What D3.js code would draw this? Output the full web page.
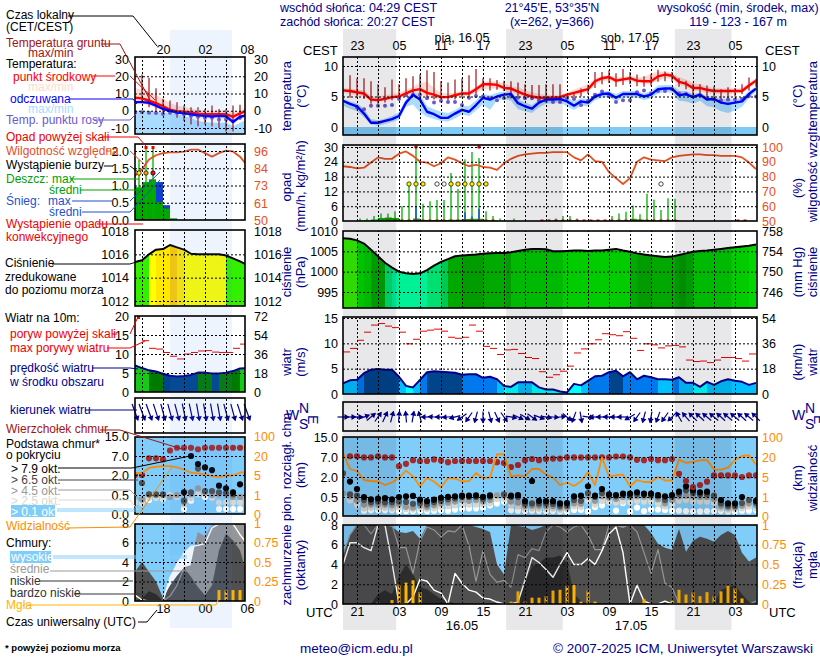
<!DOCTYPE html>
<html>
<head>
<meta charset="utf-8">
<script src="https://d3js.org/d3.v7.min.js"></script>
<style>
body { margin: 0; background: #fff; }
svg { display: block; }
text { font-family: "Liberation Sans", Arial, sans-serif; font-size: 12px; }
.ax text { font-size: 12.5px; }
.ax path { display: none; }
.grid path { display: none; }
.grid line { stroke: #000; stroke-dasharray: 2 2; stroke-width: 1; }
.frame { fill: none; stroke: #000; stroke-width: 1.6; }
</style>
</head>
<body>
<script>
// ---- main meteogram, 60 hourly values from 19 UTC
var temp = [6.0,5.9,5.7,5.5,4.5,4.4,4.6,4.9,5.0,5.5,
    6.0,6.2,5.6,5.3,4.9,4.9,5.2,5.5,5.5,6.2,
    7.0,7.0,6.9,6.4,6.3,5.8,5.3,5.0,4.8,4.8,
    4.8,4.9,5.3,5.6,5.9,6.2,7.5,8.0,8.2,7.6,
    7.8,8.0,7.6,7.5,7.5,8.3,8.6,8.4,7.4,7.1,
    6.4,6.4,6.1,5.9,5.9,5.9,5.9,5.9,6.8,7.6];
var tempMax = [6.4,6.3,6.2,6.0,5.1,5.0,5.2,5.4,5.6,6.1,
    6.5,7.2,7.4,6.4,5.6,5.5,5.7,5.9,6.0,6.6,
    7.4,7.5,7.4,7.2,6.7,6.5,6.0,5.7,5.4,5.3,
    5.2,5.3,5.6,6.1,6.6,7.0,7.9,8.4,8.5,8.1,
    8.2,8.4,8.1,8.2,8.8,9.0,9.1,8.9,8.2,7.8,
    7.2,7.0,6.6,6.4,6.3,6.3,6.3,6.4,7.2,7.9];
var tempMin = [5.6,5.4,5.2,5.0,4.2,4.1,4.3,4.6,4.7,5.0,
    5.2,5.3,4.9,4.6,4.6,4.7,4.9,5.1,5.1,5.6,
    6.2,6.3,6.3,6.0,5.7,5.3,4.9,4.7,4.5,4.5,
    4.4,4.5,4.7,5.1,5.4,5.7,6.9,7.5,7.7,7.2,
    7.4,7.5,7.2,7.1,7.1,7.6,8.0,7.9,7.0,6.6,
    6.0,5.9,5.6,5.5,5.5,5.5,5.5,5.6,6.4,7.2];
var feel = [4.3,3.8,3.4,2.2,0.7,0.7,1.0,1.3,1.8,4.0,
    5.3,4.5,2.5,2.1,1.5,1.5,2.2,2.8,2.5,3.6,
    4.8,4.5,5.0,5.3,5.4,3.9,3.4,3.0,4.0,4.5,
    4.5,4.6,4.2,3.5,4.2,4.0,5.0,5.4,5.5,4.8,
    5.4,5.4,5.4,5.0,5.3,6.2,6.3,6.3,5.2,5.4,
    4.9,5.3,4.5,4.6,4.0,3.8,4.0,4.2,5.4,6.3];
var feelMax = [4.6,4.2,3.9,3.0,1.3,1.1,1.4,1.8,2.4,4.6,
    5.8,5.4,3.4,2.9,2.5,2.3,2.8,3.5,3.4,4.4,
    5.4,5.2,5.6,5.8,5.8,4.5,4.0,3.6,4.5,5.0,
    5.0,5.0,4.8,4.2,4.7,4.6,5.4,5.8,5.9,5.4,
    5.9,5.9,5.9,5.5,5.9,6.8,6.9,6.9,5.9,5.9,
    5.4,5.6,5.0,5.0,4.6,4.5,4.6,4.8,5.9,6.6];
var feelMin = [3.5,3.0,2.6,1.6,0.4,0.2,0.5,0.8,1.2,3.3,
    3.7,2.4,1.7,1.3,1.0,0.9,1.4,2.1,1.8,2.7,
    3.7,2.8,4.4,4.6,4.3,2.9,2.6,2.3,3.2,3.8,
    3.9,4.0,3.4,2.8,3.5,3.4,4.4,4.8,4.9,4.2,
    4.8,4.8,4.8,4.4,4.7,5.5,5.7,5.6,4.3,4.2,
    3.8,4.3,3.4,3.2,2.6,2.3,2.7,3.3,4.7,5.8];
var dew = [null,null,3.2,2.9,3.5,3.5,3.5,3.6,4.6,5.2,
    5.3,5.3,4.7,4.0,4.3,4.1,4.1,3.6,4.8,5.1,
    5.0,4.7,4.4,4.7,5.0,4.8,4.7,4.7,4.4,4.3,
    4.1,4.1,4.7,4.6,3.6,4.3,5.3,5.8,5.1,4.1,
    4.4,4.4,5.7,6.0,5.5,5.9,5.9,6.2,5.5,5.4,
    5.0,5.2,4.7,4.5,4.4,4.5,4.5,4.6,5.1,5.0];
var groundMax = [null,8.5,8,8,7.5,7,6.5,7.8,7,8,
    8.3,8.6,9.3,9,7.5,7.3,7.8,8,8.5,9.5,
    8,8,7.7,7.6,7.5,7.3,7,6.9,6.9,7,
    7,7,5.3,5.7,6.3,6.9,9,9,9.3,8.8,
    9.5,9,8.6,8.3,8.6,9.4,9.1,9,8,7.6,
    7.1,7,6.8,6.7,6.2,6.5,6.4,7,8.1,7.9];
var groundMin = [null,4.8,4.8,4.6,3.8,3.8,4.0,4.4,4.4,4.9,
    5.2,5.3,4.7,4.5,4.5,4.3,4.5,4.8,4.8,5.3,
    6.0,6.0,6.1,5.9,5.5,5.0,4.6,4.5,4.4,4.3,
    4.1,4.1,4.4,4.9,5.0,5.4,6.4,7.0,7.2,6.6,
    6.9,7.0,6.7,6.6,6.8,7.4,7.5,7.4,6.6,6.2,
    4.8,5.0,4.7,4.9,4.6,4.7,5.0,5.4,6.0,6.6];
var humidity = [87,86.5,85.5,86,89.5,93,92,92,95.5,97,
    94,90,89.5,87,89,93,91.5,89,87,88,
    86.5,86,84.5,89,92,94,95,95.5,96,96,
    96.5,96.5,96.5,93,91,95,90.5,90,83,79,
    75,79,90,93,91.5,91,90.5,93,94,94.5,
    95,95,94.5,94.5,94,94,94,93,89.5,85];
var rainMax = [0,0,1,1,2,3,3,4,6,15,
    30,7,8,8.5,8.5,19.5,13,25,28,25.5,
    4,2,1,0,1,0,0,0,0,0.5,
    1,2,2,1,0,0,0,0,2,3,
    3.7,6.3,2.7,11,8.6,4.5,9.2,9,0,0,
    0,0,0,0,0,0,0,0,0,0];
var rainMean = [0,0,0.2,0.3,0.6,1.2,1.4,1.2,0.3,0.3,
    1.0,0.4,0.4,0.4,0.4,0.5,0.5,0.8,0.9,0.9,
    0.3,0.2,0.1,0,0,0,0,0,0,0,
    0.2,0.2,0.2,0.1,0,0,0,0,0.1,0.3,
    0.3,0.9,0.6,0.4,0.2,0.3,0.3,0.3,0,0,
    0,0,0,0,0,0,0,0,0,0];
var snowHours = [10,17,18,19];
var snowValues = [6,3.5,1.8,5];
var rainOverHours = [10,19];
var stormHours = [9,10,11,15,16,17,18,19,20];
var stormWeakHours = [13,14,45];
var convHours = [6,7,8,9,10,11,12,13,14,15,16,17,18,19,20,21,28,29,30,31,32,33,34,35,36,37,38,39,40,41,42,43,44,45,46,47,56,57];
var pressure = [1008.2,1008.1,1007.7,1006.9,1005.4,1003.8,1002.2,1001,1000,999.6,
    999.4,999.6,1000.4,1001.5,1002.4,1003.1,1003.8,1004,1004.1,1004.2,
    1004.4,1004.5,1004.6,1004.6,1004.8,1005.1,1005.4,1005.6,1005.6,1005.5,
    1005,1005,1005.1,1005.2,1005.2,1005.1,1005.2,1005.2,1005.4,1005.6,
    1005.2,1004.9,1004.5,1004.2,1004,1003.8,1003.6,1003.7,1004.1,1004.5,
    1004.9,1005.1,1005.2,1005.4,1005.6,1005.8,1006,1006.2,1006.4,1006.7];
var wind = [2.1,2.7,2.8,4.1,4.8,4.95,4.8,4.8,3.4,1.6,
    1.3,2.8,4.3,4.5,4.4,4.3,4.2,3.8,3.9,3.9,
    3.2,3.4,2.9,1.6,1.4,2.3,2.3,2.3,1.3,0.9,
    0.9,0.5,0.3,2.0,1.7,2.6,3.5,3.6,4.3,4.6,
    3.5,4.3,2.9,3.6,3.3,2.9,2.9,2.8,3.3,2.2,
    2.2,1.4,2.4,1.8,2.5,2.9,2.6,2.4,1.8,2.2];
var gust = [8.3,9.0,10.6,12.2,13.6,13.9,13.4,13.1,12.2,9.9,
    10.8,12.4,12.6,12.8,12.4,11.2,11.0,11.2,13.6,12.4,
    9.4,9.0,7.8,8.7,8.8,8.0,7.2,7.0,4.4,3.3,
    3.8,4.5,5.5,8.1,8.9,9.9,10.7,11.9,11.7,11.5,
    12.3,11.0,8.6,9.9,9.7,9.1,9.5,9.6,9.3,6.7,
    6.4,6.5,6.2,6.7,7.2,7.2,7.0,6.5,7.9,null];
var windDir = [90,90,88,70,50,35,25,15,5,355,
    10,345,270,275,270,265,255,235,215,195,
    180,165,155,145,100,115,120,125,110,100,
    95,85,130,200,170,100,270,270,272,270,
    270,240,215,195,190,200,215,225,330,320,
    315,312,310,310,312,310,310,312,310,315];
var cloudTop = [null,7.3,7.3,6.9,6.9,7.3,6.9,6.9,4.7,5.3,
    6.2,6,6,6.4,6.1,5.7,6,6,6,6,
    6,6,5.7,5.5,4.5,5,6.2,6.5,6.2,6.5,
    6.6,6.6,6.9,6.9,6.9,6.9,6.9,6.9,6.9,7.2,
    7.2,6.9,6.3,6.2,6.5,6.2,6.2,6.5,2.8,1.7,
    1.25,1.4,1.65,2.4,2.4,2.4,2.4,2.0,2.4,2.4];
var okt79 = [null,1.66,1.1,.5,.44,.46,.47,.44,.5,.55,
    .58,.43,.39,.43,.48,.52,.55,.6,.6,.62,
    .52,.62,null,null,.6,.65,.39,1.7,.4,.39,
    .39,.33,.34,.55,.6,1.3,.6,1.1,.7,.65,
    .75,.75,.85,.75,.75,.65,.55,.65,.9,1.3,
    1.0,.85,.9,null,.42,.33,.33,.5,null,.4];
var okt65 = [2.9,.7,.6,.42,.36,.38,.36,.36,.38,.37,
    .32,.34,.3,.36,.4,.44,.46,.5,.5,.5,
    .45,.52,null,.7,.5,.5,.32,.33,.33,.33,
    .32,.27,.27,.42,.4,.8,.5,.8,.6,.55,
    .65,.62,.7,.65,.65,.55,.42,.52,.75,1.0,
    .8,.7,.7,.6,.33,.27,.26,.34,.42,.35];
var okt45 = [.75,.55,.4,.3,.3,.3,.3,.28,.3,.24,
    .22,.27,.23,.28,.33,.35,.38,.42,.4,.42,
    .38,.42,.62,.6,.38,.35,.26,.27,.27,.26,
    .26,.22,.22,.33,.32,.55,.4,.55,.48,.45,
    .5,.5,.55,.52,.52,.44,.33,.42,.55,.6,
    .55,.5,.5,.45,.26,.22,.22,.27,.33,.28];
var okt25 = [.55,.42,.28,.2,.22,.22,.22,.2,.22,.18,
    .17,.2,.18,.2,.24,.26,.28,.3,.3,.3,
    .3,.33,.45,.45,.28,.25,.2,.2,.2,.2,
    .2,.17,.17,.25,.24,.4,.3,.4,.38,.35,
    .38,.36,.4,.38,.38,.32,.25,.3,.4,.42,
    .38,.38,.38,.35,.2,.17,.17,.2,.25,.2];
var okt01 = [null,.42,.33,.14,.15,.15,.15,.15,.13,.13,
    .13,.14,.13,.14,.15,.14,.17,.19,.2,.2,
    .22,.28,.33,.38,.15,.14,.13,.14,.13,.13,
    .13,.12,.12,.16,.16,.12,.23,.28,.38,.14,
    .34,.12,.22,.13,.17,.17,.16,.14,.14,.13,
    .12,.12,.13,.13,.13,.12,.12,.14,.14,.15];
var visibility = [38,11,9.3,4.4,4.2,4.1,3.4,3.9,4.8,9.8,
    5.5,3.1,4.8,4.1,2.9,4.8,4.7,4.1,4.2,8,
    4.8,4.9,31,31,5.5,6.3,5.5,11,11,6.8,
    4.9,3.4,3.9,3.2,4.1,8.8,3.4,19.5,5.5,6.3,
    6.8,3.1,4.4,4,4,5,4.3,4.3,18,15.7,
    16.4,17.5,17.7,10.6,10.6,12,17.7,24,27,14.4];
var cloudHigh = [4,6.2,6.2,5.7,5.4,8,8,4.2,0,0,
    .7,2.5,2.3,1.4,1.1,0,3.1,2.1,1.4,1.2,
    .6,.5,.2,0,0,.2,2.4,4.7,4.2,3.5,
    2.7,4,5.2,4,4,4.6,4,5.4,7.1,7.8,
    5.2,0,1.9,.3,0,0,.3,0,0,0,
    0,0,0,0,0,0,0,0,0,0];
var cloudMid = [5,7,8,8,7.1,8,8,8,5.7,5.7,
    3.1,6.4,7.8,7.5,6.8,7.4,7.3,8,5.9,2.3,
    5.4,3,2.2,2.4,1.7,5,4.7,5.6,5.4,7.3,
    8,7.8,7.3,7.8,8,7,5.5,5.5,8,8,
    8,8,7.3,5.2,3.1,5.5,2.1,1.7,0,0,
    0,0,0,0,0,0,0,0,0,.3];
var cloudLow = [5,7,8,8,8,8,8,7.8,7.3,7.2,
    7.4,6.6,8,8,8,8,8,8,8,7.8,
    7.6,7.3,4,3,8,7.9,7.8,7.5,7.7,8,
    8,8,8,8,8,8,8,8,8,7.9,
    7.7,8,8,8,7.2,6.1,5.7,5.5,7.6,5.3,
    6.4,6.8,6.6,6.3,7,7.4,7,5.2,4.3,4.7];
var cloudVeryLow = [0,0,0,0,0,1,1.4,1,2.8,4,
    3,1.7,1.5,1,.5,.3,0,0,0,0,
    0,0,0,0,0,0,2.2,3.8,4.1,4.7,
    4.7,4.9,4.2,1,.3,0,0,0,0,0,
    0,0,0,0,0,0,0,0,0,0,
    0,0,0,0,1.4,1.7,1.9,1,.2,0];
var fogHours = [5,7,8,9,10,11,15,24,25,26,27,28,29,30,31,32,33,34,35,36,43,47,48,49,50,51,52,53,54,55,56,57];
var fogValues = [.02,.05,.25,.27,.3,.15,.02,.03,.16,.03,.08,.08,.1,.17,.18,.23,.24,.03,.17,.03,.06,.04,.18,.12,.15,.1,.15,.1,.16,.23,.2,.07];
var fogDashedHours = [5,8,11,15,26,29,32,35,50,53,56];

// ---- short range meteogram, 17 hourly values from 14 UTC
var tempL = [7.5,7.2,5.8,4.4,2.6,0.6,-0.2,-0.5,-1,-1.7,-2,-2,-2,-2,-3.5,-1.5,0];
var tempMaxL = [13,12.5,11,9,7,4.5,3,2,1.5,0.5,0,0,0,0,-1,0,2];
var tempMinL = [5,4,3,1.5,0,-1,-1,-2,-3,-4,-4,-4,-4,-4.5,-5,-4,-2];
var feelL = [5,5,4.6,3,1,0,-1,-1.5,-2,-2.7,-3,-3.3,-3,-3.2,-6.5,-3.5,-2.7];
var feelMaxL = [0,0,-.5,-.5,-1,-1.2,-2,-3,-4,-6,-6.5,-7,-7,-7,-9,-7,-5];
var feelMinL = [-13,-13,-13,-13,-13,-13,-13,-13,-13,-13,-13,-13,-13,-13,-13,-13,-13];
var dewL = [-.9,-.9,-1.1,-1.3,-1.9,-1.1,-1.3,-2,-3,-3.5,-4,-4,-5,-5,-6,-4,-3];
var groundMaxL = [null,21,19,13,7,6,5,3,2,2,1,3,1,1,3,3.5,null];
var groundMinL = [null,5,2,0,-2,-2,-4,-6,-8,-9,-8,-9,-10,-12,-12,-5,null];
var humidityL = [79,83,90,93,94.5,95,95,95.5,97,97,94.5,92,94.5,96.3,95.7,92,86];
var rainMaxL = [1.75,2.1,2.1];
var rainMeanL = [.95,1.1,1.18,.52,.33,.05];
var snowMeanL = [0,0,0,1.1,.43,0];
var pressureL = [1015.35,1015.5,1016,1016.4,1016.45,1016.8,1016.6,1016.4,1016.05,1016,1016,1016,1016,1015.9,1015.65,1015.4,1015.1];
var windL = [7,6.3,5.7,5.4,4.8,4.3,4.1,4.2,4.5,5.1,5.1,4.9,4.9,5.1,5.5,6.2,6.3];
var gustL = [null,13.5,11.5,11.3,10.4,9.4,8.7,10,10.4,10.8,10.9,10.5,10.4,10.4,11.5,12.6,12.9];
var windDirL = [160,160,160,162,165,165,165,168,168,170,170,170,170,165,165,162,160];
var cloudTopL = [2,2,6.4,6.4,6.1,9.2,10.3,10.3,10.3,9.7,10.3,10.3,10.3,10.3,10.3,10.3,10.3];
var okt79L = [null,null,null,null,null,null,null,.7,7,4.9,4,3.3,1.2,1,.7,1.3,2];
var okt65L = [null,1.4,.55,.55,.55,null,null,.35,.7,3.7,.8,.8,.7,.65,.55,null,.5];
var okt45L = [null,.38,.55,.5,.5,.45,.5,.3,.55,1,.7,.5,.55,.5,.45,.45,.45];
var okt25L = [.3,.28,.42,.42,.42,.5,.45,.25,.42,.55,.55,.42,.3,.3,.3,.3,.3];
var okt01L = [null,null,.37,null,.4,null,null,.13,.35,null,.45,null,.13,.13,.13,.13,null];
var visibilityL = [6.5,6.5,10.6,11.5,12,12,11,9.3,6.8,6.3,5.5,4.8,4.6,4.9,4.9,6.8,7.5];
var cloudHighL = [.6,.1,0,0,0,2.4,3.8,4.9,5.6,5.7,5.9,7.5,7.9,7.9,7.9,6.8,5.9];
var cloudMidL = [0,0,0,0,0,.5,1.6,3.4,3.6,7,6.6,7.7,8,8,8,7.9,8];
var cloudLowL = [3,4,3,2,.3,1.6,2.6,3.4,2.5,1.4,.6,1.6,5.2,6.9,6.2,5.2,2.7];
var cloudVeryLowL = [0,.3,1,.7,0,0,0,0,0,0,0,0,0,0,0,0,0];
var fogHoursL = [12,13,14,15];
var fogValuesL = [.14,.14,.14,.14];
var fogDashedHoursL = [13];

// ---- axis labels
var utcLabels = ['21','03','09','15','21','03','09','15','21','03'];
var cestLabels = ['23','05','11','17','23','05','11','17','23','05'];
var utcLabelsL = ['18','00','06'];
var localLabelsL = ['20','02','08'];
var nightHours = [[0,7.6],[23.3,31.4],[47.4,55.5]];

var NAVY = '#00008c', ORANGE = '#ff8c00', HUM = '#e5501e', BROWN = '#a01414';

var svg = d3.select('body').append('svg').attr('width', 820).attr('height', 660);
var $defs = svg.append('defs');
var $data = svg.append('g');
var $overlay = svg.append('g');
var $grid = svg.append('g');
var $text = svg.append('g');

var xMain = d3.scaleLinear().domain([0, 59]).range([343, 756]);
var xLeft = d3.scaleLinear().domain([0, 16]).range([135, 247]);

var windColor = d3.scaleThreshold().domain([2, 3, 4, 5, 6])
    .range(['#00ffff', '#00c0ff', '#0078ee', '#00458c', '#007a00', '#18c818']);
var pressColor = d3.scaleThreshold()
    .domain([1000.7, 1002, 1003, 1004, 1004.4, 1004.8, 1006.5, 1007.9, 1015.9, 1016.4, 1016.7])
    .range(['#00f098', '#00e070', '#00c850', '#00a800', '#009c00', '#00aa00', '#00cc00', '#00d800', '#33f000', '#ffff00', '#ffe800', '#ffcc00']);

var clipId = 0;
function panel(x, top, bottom) {
    var id = 'clip' + (clipId++);
    var x0 = x === xMain ? 343 : 135, x1 = x === xMain ? 757 : 245;
    $defs.append('clipPath').attr('id', id).append('rect')
        .attr('x', x0).attr('y', top).attr('width', x1 - x0).attr('height', bottom - top);
    $grid.append('rect').attr('class', 'frame')
        .attr('x', x0).attr('y', top).attr('width', x1 - x0).attr('height', bottom - top);
    var g = $data.append('g').attr('clip-path', 'url(#' + id + ')');
    g.x0 = x0; g.x1 = x1; g.top = top; g.bottom = bottom;
    return g;
}

// dashed grid through the library axes
function grid(g, x, y, xTicks, yTicks) {
    $grid.append('g').attr('class', 'grid').attr('transform', 'translate(0,' + g.bottom + ')')
        .call(d3.axisBottom(x).tickValues(xTicks).tickSize(g.top - g.bottom).tickFormat(''));
    if (yTicks) {
        $grid.append('g').attr('class', 'grid').attr('transform', 'translate(' + g.x0 + ',0)')
            .call(d3.axisLeft(y).tickValues(yTicks).tickSize(g.x0 - g.x1).tickFormat(''));
    }
}

function sideAxis(xPos, isLeft, y, ticks, labels, color) {
    var axis = (isLeft ? d3.axisLeft(y) : d3.axisRight(y)).tickValues(ticks).tickSize(0).tickPadding(0)
        .tickFormat(function (d, i) { return labels ? labels[i] : d; });
    var $a = $text.append('g').attr('class', 'ax').attr('transform', 'translate(' + xPos + ',0)').call(axis);
    $a.selectAll('text').attr('fill', color || '#000');
}

function band(g, x, y, hi, lo, color) {
    g.append('path').datum(d3.range(hi.length))
        .attr('fill', color)
        .attr('d', d3.area().x(function (i) { return x(i); })
            .y0(function (i) { return y(lo[i]); }).y1(function (i) { return y(hi[i]); }));
}

function curve(g, x, y, vals, color, width) {
    g.append('path').datum(vals)
        .attr('fill', 'none').attr('stroke', color).attr('stroke-width', width)
        .attr('stroke-linejoin', 'round')
        .attr('d', d3.line().x(function (d, i) { return x(i); }).y(function (d) { return y(d); }));
}

function dots(g, x, y, vals, color, r, dx) {
    g.selectAll(null).data(vals.map(function (d, i) { return [i, d]; }).filter(function (d) { return d[1] !== null; }))
        .enter().append('circle')
        .attr('cx', function (d) { return x(d[0]) + (dx || 0); })
        .attr('cy', function (d) { return y(d[1]); })
        .attr('r', r).attr('fill', color);
}

function drawTemp(g, x, y, d) {
    band(g, x, y, d.tempMax, d.tempMin, '#ffd9d2');
    band(g, x, y, d.feelMax, d.feelMin, '#aadcff');
    g.selectAll(null).data(d.groundMax.map(function (v, i) { return i; }).filter(function (i) { return d.groundMax[i] !== null; }))
        .enter().append('line')
        .attr('x1', x).attr('x2', x)
        .attr('y1', function (i) { return y(d.groundMax[i]); })
        .attr('y2', function (i) { return y(d.groundMin[i]); })
        .attr('stroke', BROWN).attr('stroke-width', 1.2);
    dots(g, x, y, d.dew, '#6a5acd', 2);
    curve(g, x, y, d.temp, '#ff0000', 2.4);
    curve(g, x, y, d.feel, '#0000ff', 2.4);
}

function columns(g, x, y, vals, colorOf) {
    var id = 'clip' + (clipId++);
    $defs.append('clipPath').attr('id', id).append('path').datum(vals)
        .attr('d', d3.area().x(function (d, i) { return x(i); }).y0(g.bottom).y1(function (d) { return y(d); }));
    var $c = g.append('g').attr('clip-path', 'url(#' + id + ')');
    $c.selectAll('rect').data(d3.range(vals.length - 1)).enter().append('rect')
        .attr('x', function (i) { return x(i); })
        .attr('width', function (i) { return x(i + 1) - x(i) + 0.5; })
        .attr('y', g.top).attr('height', g.bottom - g.top)
        .attr('fill', function (i) { return colorOf((vals[i] + vals[i + 1]) / 2); });
    curve(g, x, y, vals, '#000', 2);
}

function drawWindDir(g, x, cy, dirs, len) {
    var $arrows = $data.append('g').selectAll('g').data(dirs).enter().append('g')
        .attr('transform', function (d, i) { return 'translate(' + x(i) + ',' + cy + ') rotate(' + d + ')'; });
    $arrows.append('line')
        .attr('y1', len / 2).attr('y2', -len / 2)
        .attr('stroke', NAVY).attr('stroke-width', 1.2);
    $arrows.append('path')
        .attr('d', 'M0,' + (-len / 2 - 1) + 'L3,' + (-len / 2 + 4) + 'L-3,' + (-len / 2 + 4) + 'Z')
        .attr('fill', NAVY);
}

function drawClouds(g, x, y, d) {
    g.append('rect').attr('x', g.x0).attr('y', g.top).attr('width', g.x1 - g.x0).attr('height', g.bottom - g.top).attr('fill', '#80cdfa');
    band(g, x, y, d.high, d.high.map(function () { return 0; }), '#ffffff');
    band(g, x, y, d.mid, d.mid.map(function () { return 0; }), '#969696');
    band(g, x, y, d.low, d.low.map(function () { return 0; }), '#505050');
    band(g, x, y, d.veryLow, d.veryLow.map(function () { return 0; }), '#2c2c2c');
    curve(g, x, y, d.mid, '#969696', 1.2);
    curve(g, x, y, d.high, '#ffffff', 1.4);
}

function drawFog(g, x, y, hours, vals, dashed) {
    g.selectAll(null).data(hours).enter().append('rect')
        .attr('x', function (h) { return x(h) - 1.5; }).attr('width', 3)
        .attr('y', function (h, i) { return y(vals[i]); })
        .attr('height', function (h, i) { return y(0) - y(vals[i]); })
        .attr('fill', '#ffb400');
    g.selectAll(null).data(dashed).enter().append('line')
        .attr('x1', x).attr('x2', x)
        .attr('y1', function (h) { return y(vals[hours.indexOf(h)]); }).attr('y2', y(0))
        .attr('stroke', '#000').attr('stroke-width', 1).attr('stroke-dasharray', '2 3');
}

function drawBase(g, x, y, d) {
    g.append('rect').attr('x', g.x0).attr('y', g.top).attr('width', g.x1 - g.x0).attr('height', g.bottom - g.top).attr('fill', '#80cdfa');
    dots(g, x, y, d.o01, '#ffffff', 3.1);
    dots(g, x, y, d.o25, '#d8d8d0', 3.1);
    dots(g, x, y, d.o45, '#999999', 3.1);
    dots(g, x, y, d.o65, '#505050', 3.1);
    dots(g, x, y, d.o79, '#000000', 3.1);
    dots(g, x, y, d.top, '#a52a2a', 3.1);
    curve(g, x, y, d.vis, ORANGE, 1.8);
}

// ---- main panels
var gridHours = d3.range(2, 59, 3);
var labelHours = d3.range(2, 59, 6);

var yT = d3.scaleLinear().domain([0, 10]).range([127, 66]);
var $pT = panel(xMain, 57, 135);
$pT.append('rect').attr('x', 343).attr('width', 414).attr('y', yT(0)).attr('height', 135 - yT(0)).attr('fill', '#7ecbf5');
drawTemp($pT, xMain, yT, { tempMax: tempMax, tempMin: tempMin, feelMax: feelMax, feelMin: feelMin, groundMax: groundMax, groundMin: groundMin, dew: dew, temp: temp, feel: feel });
grid($pT, xMain, yT, gridHours, [5, 10]);
sideAxis(338, true, yT, [0, 5, 10]);
sideAxis(762, false, yT, [0, 5, 10]);

var yR = d3.scaleLinear().domain([0, 30]).range([221, 147]);
var yH = d3.scaleLinear().domain([50, 100]).range([221, 147]);
var $pR = panel(xMain, 145, 221);
$pR.selectAll(null).data(d3.range(60)).enter().append('rect')
    .attr('x', xMain).attr('width', 7)
    .attr('y', function (i) { return yR(rainMean[i]); })
    .attr('height', function (i) { return 221 - yR(rainMean[i]); })
    .attr('fill', '#00a800');
$pR.selectAll(null).data(d3.range(60)).enter().append('line')
    .attr('x1', function (i) { return xMain(i) + 3; }).attr('x2', function (i) { return xMain(i) + 3; })
    .attr('y1', function (i) { return yR(rainMax[i]); }).attr('y2', 221)
    .attr('stroke', '#00b000').attr('stroke-width', 1.3);
$pR.selectAll(null).data(snowHours).enter().append('line')
    .attr('x1', function (h) { return xMain(h) + 3; }).attr('x2', function (h) { return xMain(h) + 3; })
    .attr('y1', function (h, i) { return yR(snowValues[i]); }).attr('y2', 221)
    .attr('stroke', '#1040e0').attr('stroke-width', 1.3);
curve($pR, xMain, yH, humidity, HUM, 1.8);
$pR.selectAll(null).data(convHours).enter().append('rect')
    .attr('x', function (h) { return xMain(h) + 1.5; }).attr('width', 3).attr('y', 219.5).attr('height', 3)
    .attr('fill', '#e00000');
$pR.selectAll(null).data(rainOverHours).enter().append('circle')
    .attr('cx', function (h) { return xMain(h) + 3; }).attr('cy', 147).attr('r', 1.8).attr('fill', '#ee0000');
$pR.selectAll(null).data(stormHours).enter().append('circle')
    .attr('cx', function (h) { return xMain(h) + 3; }).attr('cy', 184).attr('r', 2.2)
    .attr('fill', '#ffee00').attr('stroke', '#000').attr('stroke-width', 0.7);
$pR.selectAll(null).data(stormWeakHours).enter().append('circle')
    .attr('cx', function (h) { return xMain(h) + 3; }).attr('cy', 184).attr('r', 2.2)
    .attr('fill', '#fff').attr('stroke', '#000').attr('stroke-width', 0.7);
grid($pR, xMain, yR, gridHours, [6, 12, 18, 24, 30]);
sideAxis(338, true, yR, [0, 6, 12, 18, 24, 30]);
sideAxis(762, false, yH, [50, 60, 70, 80, 90, 100], null, HUM);

var yP = d3.scaleLinear().domain([995, 1010]).range([292, 231]);
var $pP = panel(xMain, 231, 308);
columns($pP, xMain, yP, pressure, pressColor);
grid($pP, xMain, yP, gridHours, [995, 1000, 1005]);
sideAxis(338, true, yP, [995, 1000, 1005, 1010]);
sideAxis(762, false, yP, [995, 1000, 1005, 1010], ['746', '750', '754', '758']);

var yW = d3.scaleLinear().domain([0, 15]).range([394, 318]);
var $pW = panel(xMain, 317, 394);
columns($pW, xMain, yW, wind, windColor);
$pW.selectAll('path').filter(function (d, i, n) { return n[i].getAttribute('stroke') === '#000'; }).attr('stroke', '#000090');
$pW.selectAll(null).data(d3.range(59)).enter().append('line')
    .attr('x1', xMain).attr('x2', function (i) { return xMain(i + 1); })
    .attr('y1', function (i) { return yW(gust[i]); }).attr('y2', function (i) { return yW(gust[i]); })
    .attr('stroke', '#ee0000').attr('stroke-width', 1);
grid($pW, xMain, yW, gridHours, [5, 10, 15]);
sideAxis(338, true, yW, [0, 5, 10, 15]);
sideAxis(762, false, yW, [0, 5, 10, 15], ['0', '18', '36', '54']);

var $pD = panel(xMain, 402, 431);
grid($pD, xMain, null, gridHours, null);
drawWindDir($pD, xMain, 417, windDir, 11);

var yB = d3.scaleLinear().domain([0, .5, 2, 7, 15]).range([516, 497, 477, 457, 437]);
var yV = d3.scaleLinear().domain([0, 1, 5, 20, 100]).range([516, 497, 477, 457, 437]);
var $pB = panel(xMain, 437, 516);
drawBase($pB, xMain, yB, { o01: okt01, o25: okt25, o45: okt45, o65: okt65, o79: okt79, top: cloudTop, vis: visibility.map(function (v) { return yB.invert(yV(v)); }) });
grid($pB, xMain, yB, gridHours, [.5, 2, 7]);
sideAxis(338, true, yB, [0, .5, 2, 7, 15], ['0.0', '0.5', '2.0', '7.0', '15.0']);
sideAxis(762, false, yV, [0, 1, 5, 20, 100], null, ORANGE);

var yC = d3.scaleLinear().domain([0, 8]).range([604, 525]);
var yF = d3.scaleLinear().domain([0, 1]).range([604, 525]);
var $pC = panel(xMain, 525, 604);
drawClouds($pC, xMain, yC, { high: cloudHigh, mid: cloudMid, low: cloudLow, veryLow: cloudVeryLow });
drawFog($pC, xMain, yF, fogHours, fogValues, fogDashedHours);
grid($pC, xMain, yC, gridHours, [2, 4, 6]);
sideAxis(338, true, yC, [0, 2, 4, 6, 8]);
sideAxis(762, false, yF, [0, .25, .5, .75, 1], null, ORANGE);

// hour labels above and below
var $top = $text.append('g').attr('class', 'ax').attr('transform', 'translate(0,50)')
    .call(d3.axisTop(xMain).tickValues(labelHours).tickSize(0).tickPadding(0).tickFormat(function (d, i) { return cestLabels[i]; }));
var $bot = $text.append('g').attr('class', 'ax').attr('transform', 'translate(0,605)')
    .call(d3.axisBottom(xMain).tickValues(labelHours).tickSize(0).tickPadding(2).tickFormat(function (d, i) { return utcLabels[i]; }));

// ---- left panels
var gridL = [1, 4, 7, 10, 13];
var labelL = [4, 10, 16];

var yTL = d3.scaleLinear().domain([-10, 30]).range([128, 59]);
var $lT = panel(xLeft, 57, 134);
drawTemp($lT, xLeft, yTL, { tempMax: tempMaxL, tempMin: tempMinL, feelMax: feelMaxL, feelMin: feelMinL, groundMax: groundMaxL, groundMin: groundMinL, dew: dewL, temp: tempL, feel: feelL });
grid($lT, xLeft, yTL, gridL, [-10, 0, 10, 20]);
sideAxis(129, true, yTL, [-10, 0, 10, 20, 30]);
sideAxis(254, false, yTL, [-10, 0, 10, 20, 30]);

var yRL = d3.scaleLinear().domain([0, 2]).range([220, 151]);
var yHL = d3.scaleLinear().domain([50, 61, 73, 84, 96]).range([220, 203, 185, 168, 151]);
var $lR = panel(xLeft, 144, 220);
$lR.selectAll(null).data(d3.range(6)).enter().append('rect')
    .attr('x', xLeft).attr('width', 7)
    .attr('y', function (i) { return yRL(snowMeanL[i]); })
    .attr('height', function (i) { return 220 - yRL(snowMeanL[i]); })
    .attr('fill', '#1040d0');
$lR.selectAll(null).data(d3.range(6)).enter().append('rect')
    .attr('x', xLeft).attr('width', 7)
    .attr('y', function (i) { return yRL(rainMeanL[i]); })
    .attr('height', function (i) { return 220 - yRL(rainMeanL[i]); })
    .attr('fill', '#00a800');
$lR.selectAll(null).data(d3.range(3)).enter().append('line')
    .attr('x1', function (i) { return xLeft(i) + 4; }).attr('x2', function (i) { return xLeft(i) + 4; })
    .attr('y1', function (i) { return yRL(rainMaxL[i]); }).attr('y2', 220)
    .attr('stroke', '#00b000').attr('stroke-width', 1.3);
curve($lR, xLeft, yHL, humidityL, HUM, 1.8);
$lR.selectAll(null).data(d3.range(1, 5)).enter().append('rect')
    .attr('x', function (i) { return xLeft(i); }).attr('width', 4).attr('y', 219).attr('height', 2).attr('fill', '#e00000');
$lR.selectAll(null).data([1, 2]).enter().append('rect')
    .attr('x', function (i) { return xLeft(i) + 2.5; }).attr('width', 3).attr('y', 146).attr('height', 3).attr('fill', '#ee0000');
$lR.selectAll(null).data(['#ffee00', '#f0a000', '#e81010']).enter().append('circle')
    .attr('cx', function (d, i) { return xLeft(i) + 4; }).attr('cy', 173).attr('r', 2.2)
    .attr('fill', function (d) { return d; }).attr('stroke', '#000').attr('stroke-width', 0.7);
grid($lR, xLeft, yRL, gridL, [.5, 1, 1.5, 2]);
sideAxis(129, true, yRL, [0, .5, 1, 1.5, 2], ['0.0', '0.5', '1.0', '1.5', '2.0']);
sideAxis(254, false, yHL, [50, 61, 73, 84, 96], null, HUM);

var yPL = d3.scaleLinear().domain([1012, 1018]).range([301, 231]);
var $lP = panel(xLeft, 230, 306);
columns($lP, xLeft, yPL, pressureL, pressColor);
grid($lP, xLeft, yPL, gridL, [1012, 1014, 1016]);
sideAxis(129, true, yPL, [1012, 1014, 1016, 1018]);
sideAxis(254, false, yPL, [1012, 1014, 1016, 1018]);

var yWL = d3.scaleLinear().domain([0, 20]).range([392, 316]);
var $lW = panel(xLeft, 316, 392);
columns($lW, xLeft, yWL, windL, windColor);
$lW.selectAll('path').filter(function (d, i, n) { return n[i].getAttribute('stroke') === '#000'; }).attr('stroke', '#000090');
$lW.selectAll(null).data(d3.range(1, 16)).enter().append('line')
    .attr('x1', xLeft).attr('x2', function (i) { return xLeft(i + 1); })
    .attr('y1', function (i) { return yWL(gustL[i]); }).attr('y2', function (i) { return yWL(gustL[i]); })
    .attr('stroke', '#ee0000').attr('stroke-width', 1);
$lW.append('rect').attr('x', 137).attr('y', 316).attr('width', 3).attr('height', 3).attr('fill', '#ee0000');
grid($lW, xLeft, yWL, gridL, [5, 10, 15]);
sideAxis(129, true, yWL, [0, 5, 10, 15, 20]);
sideAxis(254, false, yWL, [0, 5, 10, 15, 20], ['0', '18', '36', '54', '72']);

var $lD = panel(xLeft, 398, 433);
grid($lD, xLeft, null, gridL, null);
drawWindDir($lD, xLeft, 412, windDirL, 17);

var yBL = d3.scaleLinear().domain([0, .5, 2, 7, 15]).range([514, 495, 475, 456, 436]);
var yVL = d3.scaleLinear().domain([0, 1, 5, 20, 100]).range([514, 495, 475, 456, 436]);
var $lB = panel(xLeft, 437, 514);
drawBase($lB, xLeft, yBL, { o01: okt01L, o25: okt25L, o45: okt45L, o65: okt65L, o79: okt79L, top: cloudTopL, vis: visibilityL.map(function (v) { return yBL.invert(yVL(v)); }) });
grid($lB, xLeft, yBL, gridL, [.5, 2, 7]);
sideAxis(129, true, yBL, [0, .5, 2, 7, 15], ['0.0', '0.5', '2.0', '7.0', '15.0']);
sideAxis(254, false, yVL, [0, 1, 5, 20, 100], null, ORANGE);

var yCL = d3.scaleLinear().domain([0, 8]).range([601, 523]);
var yFL = d3.scaleLinear().domain([0, 1]).range([601, 523]);
var $lC = panel(xLeft, 524, 601);
drawClouds($lC, xLeft, yCL, { high: cloudHighL, mid: cloudMidL, low: cloudLowL, veryLow: cloudVeryLowL });
drawFog($lC, xLeft, yFL, fogHoursL, fogValuesL, fogDashedHoursL);
grid($lC, xLeft, yCL, gridL, [2, 4, 6]);
sideAxis(129, true, yCL, [0, 2, 4, 6, 8]);
sideAxis(254, false, yFL, [0, .25, .5, .75, 1], null, ORANGE);

$text.append('g').attr('class', 'ax').attr('transform', 'translate(0,54)')
    .call(d3.axisTop(xLeft).tickValues(labelL).tickSize(0).tickPadding(0).tickFormat(function (d, i) { return localLabelsL[i]; }));
$text.append('g').attr('class', 'ax').attr('transform', 'translate(0,602)')
    .call(d3.axisBottom(xLeft).tickValues(labelL).tickSize(0).tickPadding(2).tickFormat(function (d, i) { return utcLabelsL[i]; }));

// ---- night and daylight overlays
nightHours.forEach(function (n) {
    $overlay.append('rect').attr('x', Math.max(343, xMain(n[0]))).attr('width', xMain(n[1]) - Math.max(343, xMain(n[0])))
        .attr('y', 29).attr('height', 601).attr('fill', 'rgba(0,0,20,0.09)');
});
$overlay.append('rect').attr('x', 170).attr('width', 62).attr('y', 30).attr('height', 598).attr('fill', 'rgba(70,130,240,0.09)');

// ---- texts
function label(x, y, s, color, anchor, size) {
    return $text.append('text').attr('x', x).attr('y', y).text(s)
        .attr('fill', color || '#000').attr('text-anchor', anchor || 'start')
        .style('font-size', (size || 12) + 'px');
}
function rotLabel(x, y, s) {
    return $text.append('text').text(s).attr('fill', NAVY).attr('text-anchor', 'middle')
        .attr('transform', 'translate(' + x + ',' + y + ') rotate(-90)')
        .style('font-size', '13px');
}
function leader(pts, color) {
    $text.append('path').datum(pts).attr('fill', 'none').attr('stroke', color).attr('stroke-width', 1)
        .attr('d', d3.line());
}

label(280, 12, 'wschód słońca: 04:29 CEST', NAVY, 'start', 12.5);
label(280, 26, 'zachód słońca: 20:27 CEST', NAVY, 'start', 12.5);
label(552, 12, "21°45'E, 53°35'N", NAVY, 'middle', 12.5);
label(552, 26, '(x=262, y=366)', NAVY, 'middle', 12.5);
label(738, 12, 'wysokość (min, środek, max)', NAVY, 'middle', 12.5);
label(738, 26, '119 - 123 - 167 m', NAVY, 'middle', 12.5);
label(462, 42, 'pią, 16.05', '#000', 'middle', 12.5);
label(630, 42, 'sob, 17.05', '#000', 'middle', 12.5);
label(303, 55, 'CEST', '#000', 'start', 13);
label(765, 55, 'CEST', '#000', 'start', 13);
label(306, 617, 'UTC', '#000', 'start', 13);
label(769, 617, 'UTC', '#000', 'start', 13);
label(462, 630, '16.05', '#000', 'middle', 13);
label(631, 630, '17.05', '#000', 'middle', 13);
label(300, 653, 'meteo@icm.edu.pl', NAVY, 'start', 13.5);
label(553, 653, '© 2007-2025 ICM, Uniwersytet Warszawski', NAVY, 'start', 13.5);

rotLabel(291, 96, 'temperatura'); rotLabel(306, 96, '(°C)');
rotLabel(291, 187, 'opad'); rotLabel(305, 186, '(mm/h, kg/m²/h)');
rotLabel(291, 272, 'ciśnienie'); rotLabel(305, 272, '(hPa)');
rotLabel(291, 362, 'wiatr'); rotLabel(305, 362, '(m/s)');
rotLabel(291, 465, 'pion. rozciągł. chm.'); rotLabel(305, 475, '(km)');
rotLabel(291, 565, 'zachmurzenie'); rotLabel(305, 565, '(oktanty)');
rotLabel(802, 96, '(°C)'); rotLabel(817, 96, 'temperatura');
rotLabel(802, 188, '(%)'); rotLabel(817, 175, 'wilgotność wzgl.');
rotLabel(802, 272, '(mm Hg)'); rotLabel(817, 272, 'ciśnienie');
rotLabel(802, 362, '(km/h)'); rotLabel(817, 362, 'wiatr');
rotLabel(802, 478, '(km)'); rotLabel(817, 478, 'widzialność');
rotLabel(802, 565, '(frakcja)'); rotLabel(817, 565, 'mgła');

// compass letters beside the direction panel
[286, 792].forEach(function (cx) {
    label(cx, 420, 'W', NAVY, 'start', 14);
    label(cx + 13, 413, 'N', NAVY, 'start', 14);
    label(cx + 13, 429, 'S', NAVY, 'start', 14);
    $text.append('text').text('E').attr('fill', NAVY).style('font-size', '14px')
        .attr('transform', 'translate(' + (cx + 22) + ',415) rotate(90)');
});

// legend of the short range panels
label(6, 19, 'Czas lokalny'); label(6, 31, '(CET/CEST)');
leader([[68, 16], [133, 16], [157, 46]], '#000');
label(6, 47, 'Temperatura gruntu', BROWN); label(28, 57, 'max/min', BROWN);
leader([[101, 44], [120, 44], [150, 100]], BROWN);
label(6, 68, 'Temperatura:');
label(13, 81, 'punkt środkowy', '#ff0000');
leader([[92, 76], [115, 76]], '#ff0000');
leader([[130, 76], [155, 100]], '#ff0000');
label(28, 91, 'max/min', '#ffdccc');
label(10, 103, 'odczuwana', '#0000ff');
leader([[70, 99], [133, 99], [137, 104]], '#0000ff');
label(28, 113, 'max/min', '#a8dcff');
label(6, 124, 'Temp. punktu rosy', '#6a5acd');
leader([[94, 120], [130, 120], [137, 113]], '#6a5acd');
label(6, 141, 'Opad powyżej skali', '#ee0000');
leader([[102, 137], [138, 137], [146, 146]], '#ee0000');
label(6, 155, 'Wilgotność względna', HUM);
leader([[106, 151], [111, 151]], HUM);
leader([[130, 151], [145, 165]], HUM);
label(6, 169, 'Wystąpienie burzy');
leader([[104, 166], [113, 166]], '#000');
leader([[130, 166], [138, 172]], '#000');
label(6, 183, 'Deszcz: max', '#00a000');
leader([[70, 179], [139, 179]], '#00a000');
label(49, 194, 'średni', '#00a000');
leader([[80, 190], [145, 190]], '#00a000');
label(6, 205, 'Śnieg:', '#1f4fd0'); label(48, 205, 'max', '#1f4fd0');
leader([[72, 201], [112, 201]], '#1f4fd0');
leader([[130, 201], [160, 172]], '#1f4fd0');
label(49, 216, 'średni', '#1f4fd0');
leader([[82, 212], [130, 212], [160, 180]], '#1f4fd0');
label(6, 228, 'Wystąpienie opadu', '#ee0000');
leader([[97, 224], [143, 224]], '#ee0000');
label(6, 241, 'konwekcyjnego', '#ee0000');
label(5, 267, 'Ciśnienie');
leader([[52, 264], [130, 264], [136, 262]], '#000');
label(5, 281, 'zredukowane'); label(5, 294, 'do poziomu morza');
label(5, 322, 'Wiatr na 10m:');
label(10, 338, 'poryw powyżej skali', '#ee0000');
leader([[112, 334], [117, 334]], '#ee0000');
leader([[130, 334], [138, 317]], '#ee0000');
label(10, 352, 'max porywy wiatru', '#ee0000');
leader([[107, 348], [130, 348], [145, 341]], '#ee0000');
label(10, 372, 'prędkość wiatru', NAVY); label(10, 386, 'w środku obszaru', NAVY);
leader([[92, 368], [130, 368], [138, 369]], NAVY);
label(10, 414, 'kierunek wiatru', NAVY);
leader([[85, 410], [137, 410]], NAVY);
label(6, 433, 'Wierzchołek chmur', BROWN);
leader([[100, 430], [120, 430], [185, 450]], BROWN);
label(6, 448, 'Podstawa chmur*'); label(6, 459, 'o pokryciu');
label(11, 473, '> 7.9 okt.');
leader([[58, 468], [132, 468], [190, 456]], '#000');
label(11, 484, '> 6.5 okt.', '#444');
leader([[58, 480], [138, 480]], '#444');
label(11, 495, '> 4.5 okt.', '#999');
leader([[58, 490], [130, 490], [140, 500]], '#999');
label(11, 505, '> 2.5 okt.', '#d8d8d0');
leader([[58, 500], [130, 500], [138, 510]], '#d8d8d0');
$text.append('rect').attr('x', 11).attr('y', 505).attr('width', 44).attr('height', 12).attr('fill', '#80cdfa');
label(11, 516, '> 0.1 okt.', '#fff');
leader([[57, 509], [137, 509]], '#80cdfa');
leader([[57, 511], [137, 511]], '#80cdfa');
label(6, 530, 'Widzialność', ORANGE);
leader([[67, 528], [130, 527], [172, 467]], ORANGE);
label(6, 547, 'Chmury:');
$text.append('rect').attr('x', 10).attr('y', 551).attr('width', 41).attr('height', 12).attr('fill', '#80cdfa');
label(11, 561, 'wysokie', '#fff');
leader([[53, 556], [187, 556]], '#80cdfa');
leader([[53, 558], [187, 558]], '#80cdfa');
label(10, 573, 'średnie', '#999');
leader([[50, 571], [193, 571]], '#999');
label(10, 585, 'niskie', '#333');
leader([[40, 581], [133, 581]], '#333');
label(10, 597, 'bardzo niskie', '#333');
leader([[74, 594], [145, 594]], '#333');
label(6, 609, 'Mgła', '#ffb400');
leader([[26, 605], [216, 605], [218, 600]], '#ffb400');
label(6, 626, 'Czas uniwersalny (UTC)');
leader([[138, 622], [147, 622], [157, 610]], '#000');
label(5, 651, '* powyżej poziomu morza', '#000', 'start', 9.5).style('font-weight', 'bold');
</script>
</body>
</html>
